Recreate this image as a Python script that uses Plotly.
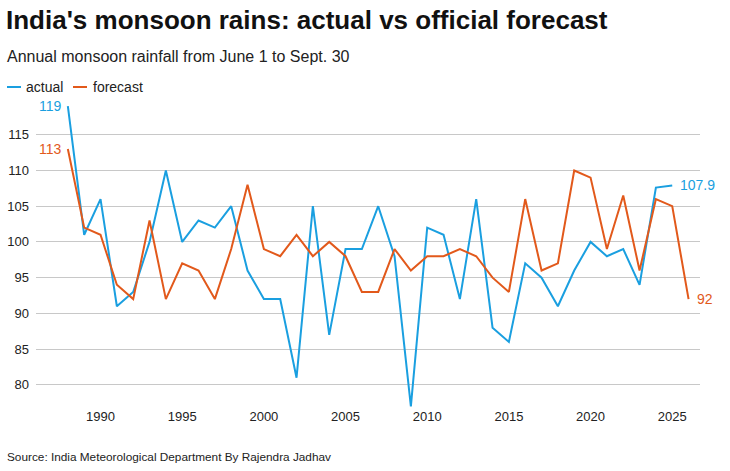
import plotly.graph_objects as go

years_actual = list(range(1988, 2026))
actual = [119, 101, 106, 91, 93, 100, 110, 100, 103, 102, 105, 96, 92, 92, 81, 105, 87, 99, 99, 105,
          98, 77, 102, 101, 92, 106, 88, 86, 97, 95, 91, 96, 100, 98, 99, 94, 107.6, 107.9]
years_forecast = list(range(1988, 2027))
forecast = [113, 102, 101, 94, 92, 103, 92, 97, 96, 92, 99, 108, 99, 98, 101, 98, 100, 98, 93, 93,
            99, 96, 98, 98, 99, 98, 95, 93, 106, 96, 97, 110, 109, 99, 106.5, 96, 106, 105, 92]
x_ticks = [1990, 1995, 2000, 2005, 2010, 2015, 2020, 2025]
y_ticks = [80, 85, 90, 95, 100, 105, 110, 115]

BLUE = "#1a9fe0"
ORANGE = "#e2591b"
FONT = "Liberation Sans, Arial, sans-serif"

fig = go.Figure()
fig.add_trace(go.Scatter(x=years_actual, y=actual, mode="lines", name="actual",
                         line=dict(color=BLUE, width=2)))
fig.add_trace(go.Scatter(x=years_forecast, y=forecast, mode="lines", name="forecast",
                         line=dict(color=ORANGE, width=2)))

L, T, B, W, H = 36, 99, 407, 730, 471
PW = 700 - L
PH = B - T

def px(x):
    return (x - L) / PW

def py(y):
    return (B - y) / PH

anns = [
    dict(text="<b>India's monsoon rains: actual vs official forecast</b>", x=px(4), y=py(20),
         font=dict(size=26, color="#111111")),
    dict(text="Annual monsoon rainfall from June 1 to Sept. 30", x=px(5), y=py(57),
         font=dict(size=16, color="#222222")),
    dict(text="actual", x=px(24), y=py(87), font=dict(size=14, color="#222222")),
    dict(text="forecast", x=px(91), y=py(87), font=dict(size=14, color="#222222")),
    dict(text="Source: India Meteorological Department By Rajendra Jadhav", x=px(5), y=py(457),
         font=dict(size=11.8, color="#222222")),
]
for a in anns:
    a.update(xref="paper", yref="paper", xanchor="left", yanchor="middle", showarrow=False)

# value labels
anns += [
    dict(x=years_actual[0], y=actual[0], text=str(actual[0]), xanchor="right", xshift=-4,
         font=dict(size=14, color=BLUE)),
    dict(x=years_forecast[0], y=forecast[0], text=str(forecast[0]), xanchor="right", xshift=-4,
         font=dict(size=14, color=ORANGE)),
    dict(x=years_actual[-1], y=actual[-1], text=str(actual[-1]), xanchor="left", xshift=6,
         font=dict(size=14, color=BLUE)),
    dict(x=years_forecast[-1], y=forecast[-1], text=str(forecast[-1]), xanchor="left", xshift=6,
         font=dict(size=14, color=ORANGE)),
]
for a in anns[-4:]:
    a.update(xref="x", yref="y", yanchor="middle", showarrow=False)

shapes = [
    dict(type="line", xref="paper", yref="paper", x0=px(7), x1=px(21), y0=py(87), y1=py(87),
         line=dict(color=BLUE, width=2)),
    dict(type="line", xref="paper", yref="paper", x0=px(73), x1=px(87), y0=py(87), y1=py(87),
         line=dict(color=ORANGE, width=2)),
]

fig.update_layout(
    width=W, height=H,
    margin=dict(l=L, r=W - 700, t=T, b=H - B, autoexpand=False),
    paper_bgcolor="white", plot_bgcolor="white",
    font=dict(family=FONT, size=13, color="#222222"),
    showlegend=False,
    annotations=anns,
    shapes=shapes,
    xaxis=dict(range=[1986.05, 2026.7], tickvals=x_ticks, showgrid=False, zeroline=False,
               showline=False, ticks="", automargin=False,
               tickfont=dict(size=13, color="#222222")),
    yaxis=dict(range=[76.9, 120], tickvals=y_ticks, showgrid=True, gridcolor="#c8c8c8",
               gridwidth=1, zeroline=False, showline=False, ticks="", automargin=False,
               tickfont=dict(size=13, color="#222222"), ticklabelstandoff=6),
)

fig.write_html("out.html", config={"displayModeBar": False},
               post_script="document.body.style.margin='0';")
